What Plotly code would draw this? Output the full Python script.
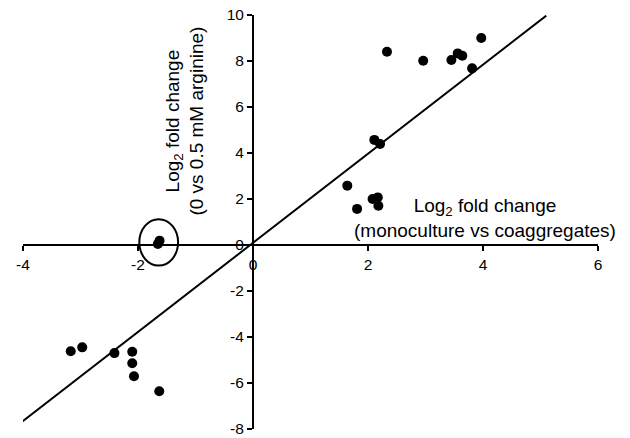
import plotly.graph_objects as go

# Data
x_vals = [2.33, 2.96, 3.45, 3.56, 3.64, 3.97, 3.81, 2.11, 2.21, 1.64, 1.81, 2.08, 2.17, 2.18,
          -1.655, -1.625,
          -3.17, -2.97, -2.41, -2.10, -2.10, -2.07, -1.63]
y_vals = [8.40, 8.01, 8.04, 8.33, 8.23, 9.00, 7.68, 4.57, 4.39, 2.58, 1.57, 2.00, 2.07, 1.71,
          0.04, 0.19,
          -4.62, -4.45, -4.70, -4.64, -5.14, -5.71, -6.36]

# fitted line endpoints
fit_x = [-4.05, 5.10]
fit_y = [-7.75, 9.97]

# highlighted (circled) points
circled_x = [-1.655, -1.625]
circled_y = [0.04, 0.19]

x_ticks = [-4, -2, 0, 2, 4, 6]
x_tick_text = ["-4", "-2", "0", "2", "4", "6"]
y_ticks = [-8, -6, -4, -2, 0, 2, 4, 6, 8, 10]
y_tick_text = ["-8", "-6", "-4", "-2", "0", "2", "4", "6", "8", "10"]

FONT = "Arial, 'Liberation Sans', sans-serif"
TICK_SIZE = 15.5
TITLE_SIZE = 19

fig = go.Figure()
fig.add_trace(go.Scatter(x=fit_x, y=fit_y, mode="lines",
                         line=dict(color="black", width=2), hoverinfo="skip"))
fig.add_trace(go.Scatter(x=x_vals, y=y_vals, mode="markers",
                         marker=dict(color="black", size=10)))

xr = [-4, 6]
yr = [-8, 10]
x0_pos = (0 - xr[0]) / (xr[1] - xr[0])
y0_pos = (0 - yr[0]) / (yr[1] - yr[0])

fig.update_layout(
    width=630, height=438,
    margin=dict(l=22.7, r=32.3, t=15, b=8.5, autoexpand=False),
    paper_bgcolor="white", plot_bgcolor="white",
    showlegend=False,
    font=dict(family=FONT, size=TICK_SIZE, color="black"),
    xaxis=dict(range=xr, tickvals=x_ticks, ticktext=x_tick_text,
               showgrid=False, zeroline=False, automargin=False,
               showline=True, linecolor="black", linewidth=2,
               ticks="outside", ticklen=5, tickwidth=2, tickcolor="black",
               anchor="free", position=y0_pos, ticklabeloverflow="allow",
               tickfont=dict(size=TICK_SIZE, family=FONT)),
    yaxis=dict(range=yr, tickvals=y_ticks, ticktext=y_tick_text,
               showgrid=False, zeroline=False, automargin=False,
               showline=True, linecolor="black", linewidth=2,
               ticks="outside", ticklen=5, tickwidth=2, tickcolor="black",
               anchor="free", position=x0_pos, ticklabeloverflow="allow",
               tickfont=dict(size=TICK_SIZE, family=FONT)),
)

# ellipse around circled points
cx = sum(circled_x) / len(circled_x)
cy = sum(circled_y) / len(circled_y)
rx, ry = 0.337, 1.01
fig.add_shape(type="circle", xref="x", yref="y",
              x0=cx - rx, x1=cx + rx, y0=cy - ry, y1=cy + ry,
              line=dict(color="black", width=2))

fig.add_annotation(x=-1.19, y=5.39, xref="x", yref="y",
                   text="Log<sub>2</sub> fold change<br>(0 vs 0.5 mM arginine)",
                   textangle=-90, showarrow=False, align="center",
                   font=dict(size=TITLE_SIZE, family=FONT))
fig.add_annotation(x=4.04, y=1.17, xref="x", yref="y",
                   text="Log<sub>2</sub> fold change<br>(monoculture vs coaggregates)",
                   showarrow=False, align="center",
                   font=dict(size=TITLE_SIZE, family=FONT))

fig.write_html("out.html")
